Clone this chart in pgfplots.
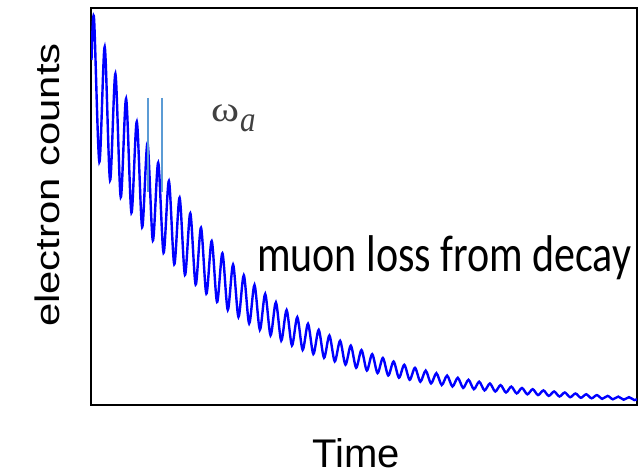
\documentclass[border=0pt]{standalone}
\usepackage{fontspec}
\setmainfont{Liberation Sans}
\newfontfamily\calibri{Carlito}
\newfontfamily\greekfont{Liberation Serif}
\usepackage{pgfplots}
\pgfplotsset{compat=1.18}
\definecolor{wiggle}{RGB}{0,0,255}
\definecolor{marker}{RGB}{91,155,213}
\definecolor{omegagray}{RGB}{64,64,64}

\begin{document}
\begin{tikzpicture}
\begin{axis}[
scale only axis,
width=546bp,
height=397bp,
xmin=0, xmax=546,
ymin=0, ymax=397,
xtick=\empty,
ytick=\empty,
axis line style={black, line width=1.3bp},
]
% wiggle: alternating peaks and troughs
\addplot[wiggle, line width=2.4bp, smooth] coordinates {
(0.5,345)
(3,387.2) (8.35,243.1) (13.7,358.1) (19.05,224.8) (24.4,331.2) (29.75,207.9)
(35.1,306.3) (40.45,192.3) (45.8,283.3) (51.15,177.9) (56.5,262.0) (61.85,164.5)
(67.2,242.3) (72.55,152.2) (77.9,224.1) (83.25,140.7) (88.6,207.3) (93.95,130.1)
(99.3,191.7) (104.65,120.4) (110.0,177.3) (115.35,111.3) (120.7,164.0) (126.05,103.0)
(131.4,151.7) (136.75,95.2) (142.1,140.3) (147.45,88.1) (152.8,129.7) (158.15,81.5)
(163.5,120.0) (168.85,75.3) (174.2,111.0) (179.55,69.7) (184.9,102.6) (190.25,64.4)
(195.6,94.9) (200.95,59.6) (206.3,87.8) (211.65,55.1) (217.0,81.2) (222.35,51.0)
(227.7,75.1) (233.05,47.2) (238.4,69.5) (243.75,43.6) (249.1,64.2) (254.45,40.3)
(259.8,59.4) (265.15,37.3) (270.5,54.9) (275.85,34.5) (281.2,50.8) (286.55,31.9)
(291.9,47.0) (297.25,29.5) (302.6,43.5) (307.95,27.3) (313.3,40.2) (318.65,25.2)
(324.0,37.2) (329.35,23.3) (334.7,34.4) (340.05,21.6) (345.4,31.8) (350.75,20.0)
(356.1,29.4) (361.45,18.5) (366.8,27.2) (372.15,17.1) (377.5,25.2) (382.85,15.8)
(388.2,23.3) (393.55,14.6) (398.9,21.5) (404.25,13.5) (409.6,19.9) (414.95,12.5)
(420.3,18.4) (425.65,11.6) (431.0,17.0) (436.35,10.7) (441.7,15.8) (447.05,9.9)
(452.4,14.6) (457.75,9.1) (463.1,13.5) (468.45,8.5) (473.8,12.5) (479.15,7.8)
(484.5,11.5) (489.85,7.2) (495.2,10.7) (500.55,6.7) (505.9,9.9) (511.25,6.2)
(516.6,9.1) (521.95,5.7) (527.3,8.4) (532.65,5.3) (538.0,7.8) (543.35,4.9)
(546,6.0)
};
% period markers
\addplot[marker, line width=1.2bp] coordinates {(57,307) (57,213)};
\addplot[marker, line width=1.2bp] coordinates {(71,307) (71,213)};
\node[anchor=base west, inner sep=0pt, text=omegagray] at (axis cs:120,283.5)
  {\scalebox{1.25}[1.05]{\greekfont\fontsize{34bp}{40bp}\selectfont ω}\hspace{1bp}\raisebox{-10bp}{\scalebox{1}[1.15]{\greekfont\itshape\fontsize{31bp}{36bp}\selectfont a}}};
\node[anchor=base west, inner sep=0pt] at (axis cs:166,133)
  {\scalebox{1}[1.23]{\calibri\fontsize{42bp}{50bp}\selectfont muon loss from decay}};
\end{axis}
\node[rotate=90, inner sep=0pt] at ([shift={(-44bp,220bp)}]current axis.south west)
  {\scalebox{1.23}[1]{\fontsize{34bp}{40bp}\selectfont electron counts}};
\node[inner sep=0pt] at ([shift={(265bp,-48bp)}]current axis.south west)
  {\fontsize{40bp}{48bp}\selectfont Time};
\pgfresetboundingbox
\path ([shift={(-91bp,-68bp)}]current axis.south west) rectangle ([shift={(4bp,8bp)}]current axis.north east);
\end{tikzpicture}
\end{document}
